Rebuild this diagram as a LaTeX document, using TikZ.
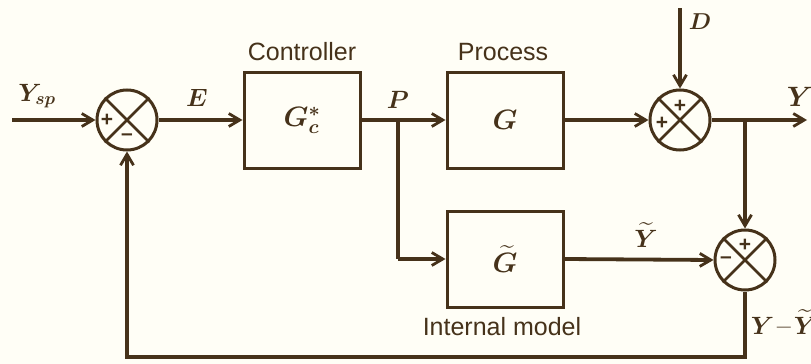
\RequirePackage{fix-cm}
\documentclass[tikz,border=0pt]{standalone}
\usepackage{amsmath}
\usepackage{bm}
\usepackage{fontspec}
\setsansfont{Liberation Sans}
\usetikzlibrary{arrows.meta,calc}
\definecolor{ink}{RGB}{70,50,26}
\definecolor{paper}{RGB}{255,254,246}
\begin{document}
\begin{tikzpicture}[x=1pt,y=-1pt,
  line width=3.8pt, draw=ink, color=ink,
  sig/.style={-{Straight Barb[length=11pt,width=13pt,line width=2.8pt]}},
  blk/.style={draw, line width=3pt, minimum width=116pt, minimum height=96pt, inner sep=0pt, font=\fontsize{28}{32}\selectfont},
  summ/.style={draw, circle, line width=3pt, minimum size=60pt, inner sep=0pt},
  pm/.style={font=\fontsize{21}{22}\selectfont\bfseries\sffamily, inner sep=0pt},
  captxt/.style={font=\fontsize{25}{28}\selectfont\sffamily, inner sep=0pt},
  var/.style={font=\fontsize{25}{30}\selectfont, inner sep=0pt}]
\fill[paper] (0,0) rectangle (811,364);
\useasboundingbox (0,0) rectangle (811,364);

% blocks
\node[blk] (ctrl) at (302,120) {$\bm{G_c^*}$};
\node[blk] (proc) at (505,120) {$\bm{G}$};
\node[blk] (model) at (505,259) {$\bm{\widetilde{G}}$};
\node[captxt] (lctrl) at (302,52) {Controller};
\node[captxt] (lproc) at (503,52) {Process};
\node[captxt] (lmodel) at (502,327) {Internal model};

% summing junctions
\node[summ] (s1) at (127,120) {};
\node[summ] (s2) at (680,120) {};
\node[summ] (s3) at (745,260) {};
\foreach \s in {s1,s2,s3}{
  \draw[line width=2.6pt] (\s.north east) -- (\s.south west);
  \draw[line width=2.6pt] (\s.north west) -- (\s.south east);
}
\node[pm] (s1p) at ($(s1)+(-20,0)$) {+};
\node[pm] (s1m) at ($(s1)+(0,17)$) {\textendash};
\node[pm] (s2p) at ($(s2)+(0,-14)$) {+};
\node[pm] (s2q) at ($(s2)+(-18,3)$) {+};
\node[pm] (s3p) at ($(s3)+(0,-15)$) {+};
\node[pm] (s3m) at ($(s3)+(-19,0)$) {\textendash};

% coordinates
\coordinate (in) at (12,120);
\coordinate (pb) at (398,120);
\coordinate (pc) at (398,259);
\coordinate (din) at (680,8);
\coordinate (yb) at (745,120);
\coordinate (yout) at (807,120);
\coordinate (fb1) at (745,357);
\coordinate (fb2) at (127,357);

% connectors
\draw[sig] (in) -- (s1.west);
\draw[sig] (s1.east) -- (ctrl.west);
\draw[sig] (ctrl.east) -- (proc.west);
\draw (pb) -- (pc);
\draw[sig] (pc) -- (model.west);
\draw[sig] (proc.east) -- (s2.west);
\draw[sig] (din) -- (s2.north);
\draw[sig] (s2.east) -- (yout);
\draw[sig] (yb) -- (s3.north);
\draw[sig] (model.east) -- (s3.west);
\draw[sig] (s3.south) -- (fb1) -- (fb2) -- (s1.south);

% signal labels
\node[var] (lysp) at (37,96) {$\bm{Y_{sp}}$};
\node[var] (le) at (197,98) {$\bm{E}$};
\node[var] (lp) at (398,100) {$\bm{P}$};
\node[var, font=\fontsize{23}{30}\selectfont] (ld) at (700,22) {$\bm{D}$};
\node[var, font=\fontsize{28}{30}\selectfont] (ly) at (800,97) {$\bm{Y}$};
\node[var] (lyt) at (646,235) {$\bm{\widetilde{Y}}$};
\node[var, anchor=west] (ldiff) at (749,322) {$\bm{Y}\mkern2mu\textbf{\textendash}\mkern2mu\bm{\widetilde{Y}}$};
\end{tikzpicture}
\end{document}
